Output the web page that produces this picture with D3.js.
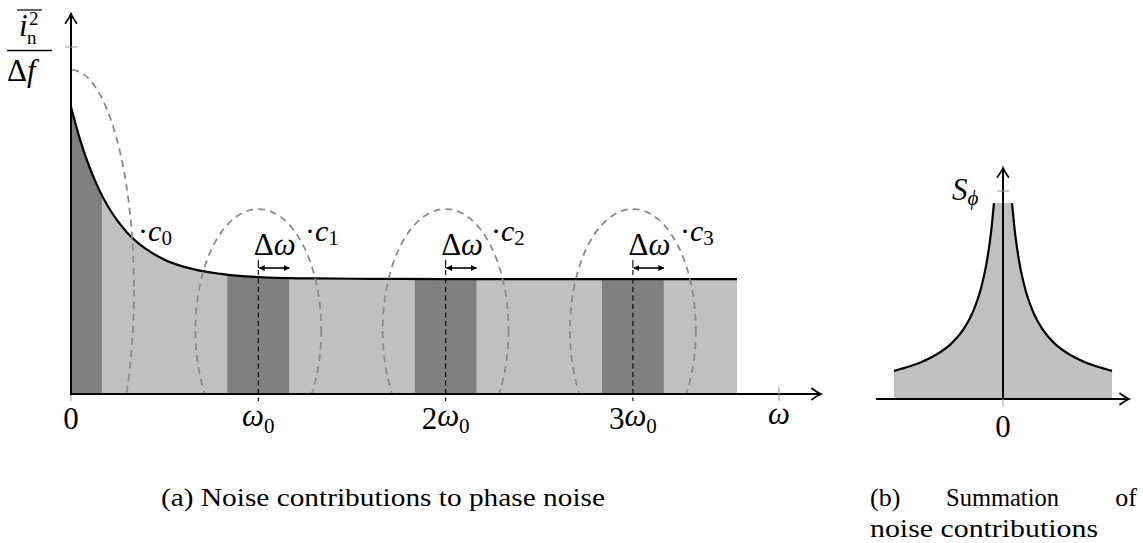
<!DOCTYPE html>
<html>
<head>
<meta charset="utf-8">
<script src="https://cdn.jsdelivr.net/npm/d3@7"></script>
<style>
  body { margin: 0; background: #fff; }
  svg text { font-family: "Liberation Serif", "DejaVu Serif", serif; fill: #000; }
</style>
</head>
<body>
<svg id="chart" width="1143" height="543"></svg>
<script>
// ---- (a) noise density (x in multiples of w0) ----
var noiseX = [0, 0.05, 0.1, 0.15, 0.2, 0.3, 0.4, 0.5, 0.6, 0.8, 1.0, 1.3, 1.6, 2.0, 2.5, 3.0, 3.556];
var noiseY = [0.827, 0.730, 0.652, 0.589, 0.538, 0.465, 0.418, 0.387, 0.367, 0.346, 0.337, 0.333, 0.332, 0.331, 0.331, 0.331, 0.331];

var harmonics = [0, 1, 2, 3];
var harmonicCoef = ["0", "", "2", "3"];   // text before omega
var harmonicOmega = [false, true, true, true];
var bandHalf = 0.165;                     // delta-omega band half width

// dashed "bubbles" round each harmonic
var bubbleCx = [0, 1, 2, 3];
var bubbleCy = [0.300, 0.184, 0.184, 0.184];
var bubbleRx = [0.336, 0.336, 0.336, 0.336];
var bubbleRy = [0.634, 0.349, 0.349, 0.349];
var cSub = ["0", "1", "2", "3"];
var cLabelX = [0.358, 1.249, 2.242, 3.251];
var cLabelY = 0.441;
var omegaTick = 3.78;

// ---- (b) summed spectrum, one branch (mirrored for the other side) ----
var sumOffset = [0.083, 0.110, 0.147, 0.202, 0.275, 0.367, 0.477, 0.606, 0.752, 0.899, 1.0];
var sumLevel = [0.942, 0.800, 0.665, 0.532, 0.420, 0.332, 0.265, 0.215, 0.177, 0.150, 0.135];

var svg = d3.select("#chart");
svg.append("rect").attr("width", 1143).attr("height", 543).attr("fill", "#fff");

var defs = svg.append("defs");
defs.append("marker")
    .attr("id", "tip")
    .attr("viewBox", "0 -5 10 10")
    .attr("refX", 9).attr("refY", 0)
    .attr("markerWidth", 6).attr("markerHeight", 6)
    .attr("markerUnits", "userSpaceOnUse")
    .attr("orient", "auto-start-reverse")
    .append("path")
    .attr("d", "M0,-5 L10,0 L0,5 Z")
    .attr("fill", "#000");

// open latex style arrow head
function arrowHead(g, x, y, angle) {
    g.append("path")
        .attr("d", "M-9,-5.5 C-5,-2.5 -2,-0.8 0,0 C-2,0.8 -5,2.5 -9,5.5")
        .attr("transform", "translate(" + x + "," + y + ") rotate(" + angle + ")")
        .attr("fill", "none")
        .attr("stroke", "#000")
        .attr("stroke-width", 1.8)
        .attr("stroke-linecap", "round");
}

// ================= panel (a) =================
var x = d3.scaleLinear().domain([0, 1]).range([71, 258.3]);
var y = d3.scaleLinear().domain([0, 1]).range([394, 47]);

var pts = noiseX.map(function(d, i) { return [d, noiseY[i]]; });

var area = d3.area()
    .x(function(d) { return x(d[0]); })
    .y0(y(0))
    .y1(function(d) { return y(d[1]); })
    .curve(d3.curveMonotoneX);
var line = d3.line()
    .x(function(d) { return x(d[0]); })
    .y(function(d) { return y(d[1]); })
    .curve(d3.curveMonotoneX);

defs.append("clipPath").attr("id", "under")
    .append("path").attr("d", area(pts));
defs.append("clipPath").attr("id", "plotA")
    .append("rect").attr("x", x(0)).attr("y", 0).attr("width", 800).attr("height", y(0));

var a = svg.append("g");

a.append("path").attr("d", area(pts)).attr("fill", "#c0c0c0");

a.append("g").attr("clip-path", "url(#under)")
    .selectAll("rect").data(harmonics).enter().append("rect")
    .attr("x", function(d) { return x(d - bandHalf); })
    .attr("y", 0)
    .attr("width", x(2 * bandHalf) - x(0))
    .attr("height", y(0))
    .attr("fill", "#808080");

a.append("path").attr("d", line(pts))
    .attr("fill", "none").attr("stroke", "#000").attr("stroke-width", 2.2);

// dashed bubbles
a.append("g").attr("clip-path", "url(#plotA)")
    .selectAll("ellipse").data(harmonics).enter().append("ellipse")
    .attr("cx", function(d, i) { return x(bubbleCx[i]); })
    .attr("cy", function(d, i) { return y(bubbleCy[i]); })
    .attr("rx", function(d, i) { return x(bubbleRx[i]) - x(0); })
    .attr("ry", function(d, i) { return y(0) - y(bubbleRy[i]); })
    .attr("fill", "none")
    .attr("stroke", "#8a8a8a")
    .attr("stroke-width", 1.8)
    .attr("stroke-dasharray", "7,5");

// harmonic markers, delta-omega arrows
var h = harmonics.slice(1);
a.selectAll(".hline").data(h).enter().append("line")
    .attr("x1", function(d) { return x(d); }).attr("x2", function(d) { return x(d); })
    .attr("y1", y(0.363) + 2).attr("y2", y(0) + 7)
    .attr("stroke", "#000").attr("stroke-width", 1.1)
    .attr("stroke-dasharray", "5,3.5");
a.selectAll(".htick").data(h).enter().append("line")
    .attr("x1", function(d) { return x(d); }).attr("x2", function(d) { return x(d); })
    .attr("y1", y(0.386)).attr("y2", y(0.363))
    .attr("stroke", "#000").attr("stroke-width", 1.1);
a.selectAll(".dw").data(h).enter().append("line")
    .attr("x1", function(d) { return x(d) + 1; })
    .attr("x2", function(d) { return x(d + bandHalf); })
    .attr("y1", y(0.363)).attr("y2", y(0.363))
    .attr("stroke", "#000").attr("stroke-width", 1.6)
    .attr("marker-start", "url(#tip)").attr("marker-end", "url(#tip)");
var dwl = a.selectAll(".dwl").data(h).enter().append("text")
    .attr("x", function(d) { return x(d + 0.088); })
    .attr("y", y(0.40))
    .attr("text-anchor", "middle")
    .attr("font-size", 31);
dwl.append("tspan").text("Δ");
dwl.append("tspan").attr("font-style", "italic").text("ω");

// c_k labels
var cl = a.selectAll(".cl").data(harmonics).enter().append("text")
    .attr("x", function(d, i) { return x(cLabelX[i]); })
    .attr("y", y(cLabelY))
    .attr("font-size", 30);
cl.append("tspan").text("·");
cl.append("tspan").attr("font-style", "italic").text("c");
cl.append("tspan").attr("font-size", 21).attr("dy", 4).text(function(d, i) { return cSub[i]; });

// axes
a.append("line").attr("x1", x(0)).attr("x2", 820).attr("y1", y(0)).attr("y2", y(0))
    .attr("stroke", "#000").attr("stroke-width", 2);
arrowHead(a, 821, y(0), 0);
a.append("line").attr("x1", x(0)).attr("x2", x(0)).attr("y1", y(0) + 1).attr("y2", 15)
    .attr("stroke", "#000").attr("stroke-width", 2);
arrowHead(a, x(0), 14, -90);

a.append("line").attr("x1", x(0)).attr("x2", x(0)).attr("y1", y(0) + 1).attr("y2", y(0) + 7)
    .attr("stroke", "#999").attr("stroke-width", 1);
a.append("line").attr("x1", x(omegaTick)).attr("x2", x(omegaTick)).attr("y1", y(0) - 7).attr("y2", y(0) + 7)
    .attr("stroke", "#999").attr("stroke-width", 1);
a.append("line").attr("x1", x(0) - 6).attr("x2", x(0) + 6).attr("y1", y(1)).attr("y2", y(1))
    .attr("stroke", "#999").attr("stroke-width", 1);

// tick labels
var tl = a.selectAll(".tl").data(harmonics).enter().append("text")
    .attr("x", function(d) { return x(d); })
    .attr("y", 429)
    .attr("text-anchor", "middle")
    .attr("font-size", 31);
tl.append("tspan").text(function(d, i) { return harmonicCoef[i]; });
tl.filter(function(d, i) { return harmonicOmega[i]; }).append("tspan")
    .attr("font-style", "italic").attr("dy", -3).text("ω");
tl.filter(function(d, i) { return harmonicOmega[i]; }).append("tspan")
    .attr("font-size", 21).attr("dy", 7).text("0");
a.append("text").attr("x", x(omegaTick)).attr("y", 424)
    .attr("text-anchor", "middle").attr("font-size", 31).attr("font-style", "italic").text("ω");

// y label  (i_n^2 overline) / (Δf)
var yl = a.append("g");
yl.append("text").attr("x", 19).attr("y", 36).attr("font-size", 31).attr("font-style", "italic").text("i");
yl.append("text").attr("x", 29).attr("y", 25).attr("font-size", 19).text("2");
yl.append("text").attr("x", 27).attr("y", 44).attr("font-size", 19).text("n");
yl.append("line").attr("x1", 17).attr("x2", 42).attr("y1", 10).attr("y2", 10)
    .attr("stroke", "#000").attr("stroke-width", 1.2);
yl.append("line").attr("x1", 7).attr("x2", 52).attr("y1", 50.5).attr("y2", 50.5)
    .attr("stroke", "#000").attr("stroke-width", 1.3);
var den = yl.append("text").attr("x", 7).attr("y", 81).attr("font-size", 31);
den.append("tspan").text("Δ");
den.append("tspan").attr("font-style", "italic").text("f");

// ================= panel (b) =================
var xr = d3.scaleLinear().domain([-1, 1]).range([894, 1112]);
var yr = d3.scaleLinear().domain([0, 1]).range([399, 191]);

var rightBranch = sumOffset.map(function(d, i) { return [d, sumLevel[i]]; });
var leftBranch = rightBranch.map(function(p) { return [-p[0], p[1]]; }).reverse();
var whole = leftBranch.concat(rightBranch);

var areaR = d3.area()
    .x(function(d) { return xr(d[0]); })
    .y0(yr(0))
    .y1(function(d) { return yr(d[1]); })
    .curve(d3.curveMonotoneX);
var lineR = d3.line()
    .x(function(d) { return xr(d[0]); })
    .y(function(d) { return yr(d[1]); })
    .curve(d3.curveMonotoneX);

var b = svg.append("g");
b.append("path").attr("d", areaR(whole)).attr("fill", "#c0c0c0");
b.append("path").attr("d", lineR(leftBranch)).attr("fill", "none").attr("stroke", "#000").attr("stroke-width", 2.2);
b.append("path").attr("d", lineR(rightBranch)).attr("fill", "none").attr("stroke", "#000").attr("stroke-width", 2.2);

b.append("line").attr("x1", 876).attr("x2", 1128).attr("y1", yr(0)).attr("y2", yr(0))
    .attr("stroke", "#000").attr("stroke-width", 2);
arrowHead(b, 1129, yr(0), 0);
b.append("line").attr("x1", xr(0)).attr("x2", xr(0)).attr("y1", yr(0)).attr("y2", 169)
    .attr("stroke", "#000").attr("stroke-width", 2);
arrowHead(b, xr(0), 168, -90);
b.append("line").attr("x1", xr(0)).attr("x2", xr(0)).attr("y1", yr(0)).attr("y2", yr(0) + 7)
    .attr("stroke", "#999").attr("stroke-width", 1);
b.append("line").attr("x1", xr(0) - 6).attr("x2", xr(0) + 6).attr("y1", yr(1)).attr("y2", yr(1))
    .attr("stroke", "#999").attr("stroke-width", 1);

b.append("text").attr("x", xr(0)).attr("y", 437).attr("text-anchor", "middle").attr("font-size", 31).text("0");
var sl = b.append("text").attr("x", 952).attr("y", 200).attr("font-size", 31);
sl.append("tspan").attr("font-style", "italic").text("S");
sl.append("tspan").attr("font-size", 21).attr("font-style", "italic").attr("dy", 5).text("ϕ");

// ================= captions =================
svg.append("text").attr("x", 161).attr("y", 506).attr("font-size", 26)
    .attr("textLength", 444).attr("lengthAdjust", "spacingAndGlyphs")
    .text("(a) Noise contributions to phase noise");
svg.append("text").attr("x", 870).attr("y", 506).attr("font-size", 26).text("(b)");
svg.append("text").attr("x", 946).attr("y", 506).attr("font-size", 26)
    .attr("textLength", 113).attr("lengthAdjust", "spacingAndGlyphs").text("Summation");
svg.append("text").attr("x", 1137).attr("y", 506).attr("font-size", 26).attr("text-anchor", "end").text("of");
svg.append("text").attr("x", 870).attr("y", 537).attr("font-size", 26)
    .attr("textLength", 228).attr("lengthAdjust", "spacingAndGlyphs").text("noise contributions");
</script>
</body>
</html>
